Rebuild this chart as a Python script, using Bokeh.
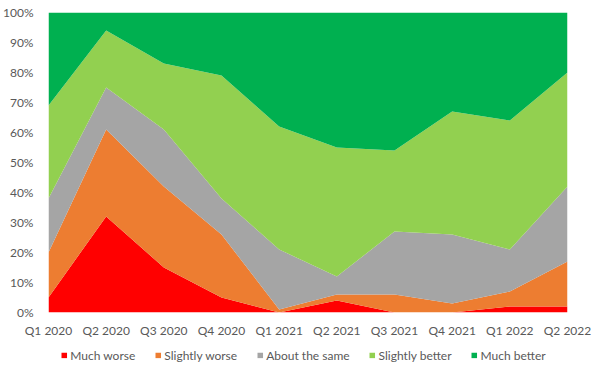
from bokeh.plotting import figure
from bokeh.layouts import column
from bokeh.models import Range1d, FixedTicker, NumeralTickFormatter, Legend, LegendItem, ColumnDataSource
from bokeh.embed import file_html
from bokeh.resources import INLINE

quarters = ["Q1 2020", "Q2 2020", "Q3 2020", "Q4 2020", "Q1 2021",
            "Q2 2021", "Q3 2021", "Q4 2021", "Q1 2022", "Q2 2022"]
much_worse = [5, 32, 15, 5, 0, 4, 0, 0, 2, 2]
slightly_worse = [15, 29, 27, 21, 1, 2, 6, 3, 5, 15]
about_same = [18, 14, 19, 12, 20, 6, 21, 23, 14, 25]
slightly_better = [31, 19, 22, 41, 41, 43, 27, 41, 43, 38]
much_better = [31, 6, 17, 21, 38, 45, 46, 33, 36, 20]

names = ["Much worse", "Slightly worse", "About the same", "Slightly better", "Much better"]
colors = ["#FF0000", "#ED7D31", "#A5A5A5", "#92D050", "#00B050"]
series = [much_worse, slightly_worse, about_same, slightly_better, much_better]

data = {"x": list(range(len(quarters)))}
for n, s in zip(names, series):
    data[n] = [v / 100 for v in s]
src = ColumnDataSource(data)

p = figure(frame_width=519, frame_height=300, output_backend="svg", toolbar_location=None,
           x_range=Range1d(0, len(quarters) - 1), y_range=Range1d(0, 1),
           min_border_left=39, min_border_right=28, min_border_top=12, min_border_bottom=0)

p.varea_stack(stackers=names, x="x", color=colors, source=src)

p.xaxis.ticker = FixedTicker(ticks=list(range(len(quarters))))
p.xaxis.major_label_overrides = {i: q for i, q in enumerate(quarters)}
p.yaxis.ticker = FixedTicker(ticks=[i / 10 for i in range(11)])
p.yaxis.formatter = NumeralTickFormatter(format="0%")
for ax in (p.xaxis, p.yaxis):
    ax.axis_line_color = None
    ax.major_tick_line_color = None
    ax.minor_tick_line_color = None
    ax.major_label_text_color = "#595959"
    ax.major_label_text_font = "Lato"
    ax.major_label_text_font_size = "12px"
p.xaxis.major_label_standoff = 4
p.yaxis.major_label_standoff = 9
p.xgrid.grid_line_color = None
p.ygrid.grid_line_color = None
p.outline_line_color = None

# legend strip: same series drawn outside its visible range, only the legend shows
lg = figure(width=586, height=30, output_backend="svg", toolbar_location=None,
            x_range=Range1d(0, len(quarters) - 1), y_range=Range1d(5, 6),
            min_border=0)
lg.axis.visible = False
lg.grid.visible = False
lg.outline_line_color = None
lrs = lg.varea_stack(stackers=names, x="x", color=colors, source=src)
legend = Legend(items=[LegendItem(label=n, renderers=[r]) for n, r in zip(names, lrs)],
                orientation="horizontal", location="center",
                glyph_width=7, glyph_height=7, label_standoff=3, spacing=19,
                label_text_font="Lato", label_text_font_size="12px", label_text_color="#595959",
                border_line_color=None, background_fill_alpha=0, padding=2, margin=0)
lg.add_layout(legend, "center")

open("out.html", "w").write(file_html(column(p, lg, spacing=0), INLINE))
